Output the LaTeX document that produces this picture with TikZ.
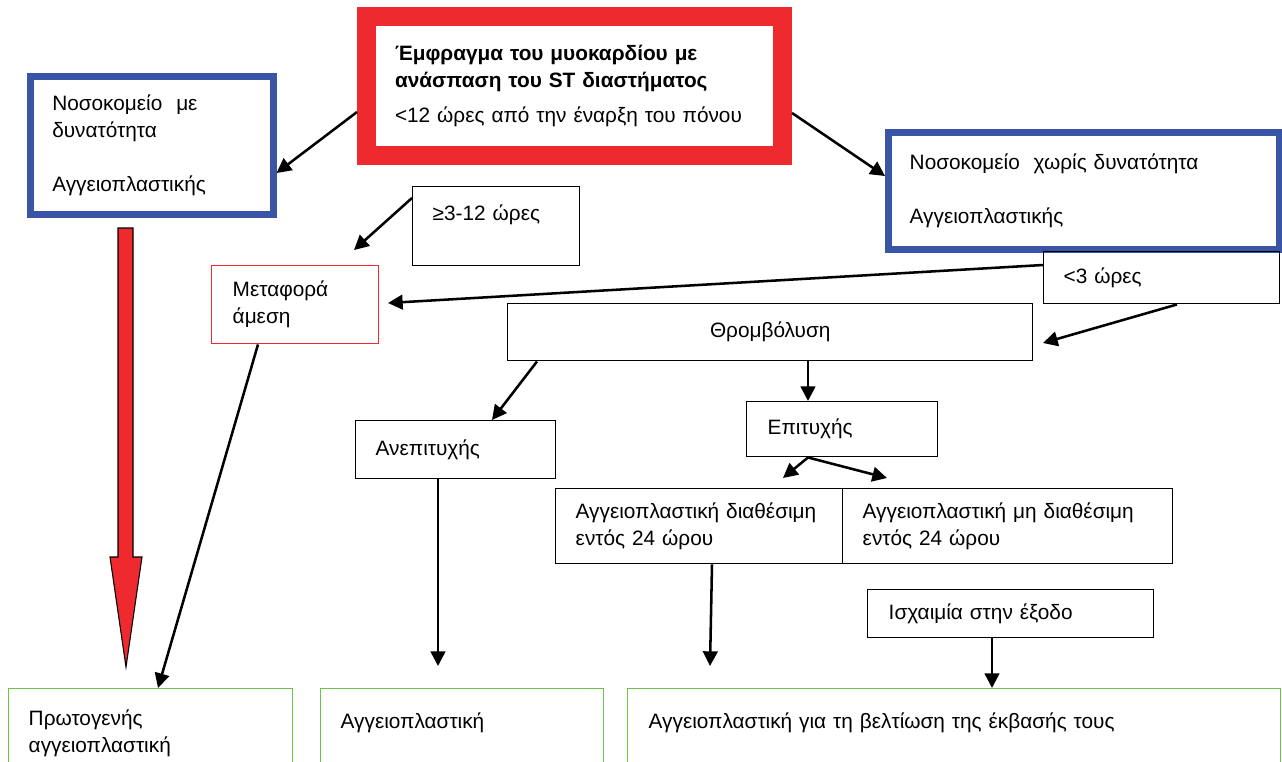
\documentclass[tikz,border=0pt]{standalone}
\usepackage{fontspec}
\setmainfont{Liberation Sans}
\usetikzlibrary{arrows.meta}
\definecolor{stemired}{HTML}{EE2A2F}
\definecolor{hospblue}{HTML}{3A55A6}
\definecolor{outgreen}{HTML}{6CC24A}
\begin{document}
\begin{tikzpicture}[x=0.75pt,y=-0.75pt,
  every node/.style={font=\fontsize{15.6}{20.25}\selectfont},
  box/.style={draw,line width=1.1pt,anchor=north west,align=left,inner ysep=0pt},
  arr/.style={-{Triangle[length=11pt,width=11pt]},line width=1.9pt}]
\useasboundingbox (0,0) rectangle (1282,761);
% top of the chart
\node[box,draw=stemired,line width=14.25pt,minimum width=312pt,minimum height=104.25pt,
  inner xsep=21.4pt,text width=269.25pt] (red) at (357,7)
  {\textbf{Έμφραγμα του μυοκαρδίου με}\\\textbf{ανάσπαση του ST διαστήματος}\\[6pt]<12 ώρες από την έναρξη του πόνου};
\node[box,draw=hospblue,line width=4.9pt,minimum width=182.25pt,minimum height=103.5pt,
  inner xsep=16.5pt,text width=149.25pt] (blueL) at (27,73)
  {Νοσοκομείο\ \ με\\δυνατότητα\\[20.25pt]Αγγειοπλαστικής};
\node[box,draw=hospblue,line width=4.9pt,minimum width=293.6pt,minimum height=88.1pt,
  inner xsep=16.1pt,text width=261.4pt] (blueR) at (885,129)
  {Νοσοκομείο\ \ χωρίς δυνατότητα\\[20.25pt]Αγγειοπλαστικής};
\node[box,minimum width=125.25pt,minimum height=59.25pt,inner xsep=15pt,text width=95.25pt]
  (ge3) at (412,186) {≥3-12 ώρες\\\mbox{}};
\node[box,draw=stemired,minimum width=125.25pt,minimum height=58.5pt,inner xsep=15.75pt,
  text width=93.75pt] (meta) at (211,265) {Μεταφορά\\άμεση};
\node[box,minimum width=177pt,minimum height=39pt,inner xsep=15pt,text width=147pt]
  (lt3) at (1043,251) {<3 ώρες};
\node[box,align=center,minimum width=393.75pt,minimum height=42.75pt]
  (thromb) at (507,303) {Θρομβόλυση};
% middle
\node[box,minimum width=150pt,minimum height=43.5pt,inner xsep=15pt,text width=120pt]
  (anep) at (355,420) {Ανεπιτυχής};
\node[box,minimum width=143.25pt,minimum height=41.25pt,inner xsep=15.75pt,text width=111.75pt]
  (epit) at (746,401) {Επιτυχής};
\node[box,minimum width=215.25pt,minimum height=56.25pt,inner xsep=15pt,text width=185.25pt]
  (diath) at (555,488) {Αγγειοπλαστική διαθέσιμη\\εντός 24 ώρου};
\node[box,minimum width=247.5pt,minimum height=56.25pt,inner xsep=15pt,text width=217.5pt]
  (nodiath) at (842,488) {Αγγειοπλαστική μη διαθέσιμη\\εντός 24 ώρου};
\node[box,minimum width=214.5pt,minimum height=36pt,inner xsep=15.75pt,text width=183pt]
  (isch) at (867,589) {Ισχαιμία στην έξοδο};
% bottom row
\node[box,draw=outgreen,minimum width=213pt,minimum height=67.5pt,inner xsep=15pt,text width=183pt]
  (green1) at (8,688) {Πρωτογενής\\αγγειοπλαστική};
\node[box,draw=outgreen,minimum width=212.25pt,minimum height=67.5pt,inner xsep=15pt,text width=182.25pt]
  (green2) at (320,688) {Αγγειοπλαστική\\\mbox{}};
\node[box,draw=outgreen,minimum width=489.75pt,minimum height=67.5pt,inner xsep=15.75pt,text width=458.25pt]
  (green3) at (627,688) {Αγγειοπλαστική για τη βελτίωση της έκβασής τους\\\mbox{}};
% free ends
\coordinate (tipMeta) at (354,250);
\coordinate (tipMetaR) at (388,303);
\coordinate (tipThr) at (1043,343);
\coordinate (tipDL) at (783,478);
\coordinate (tipDR) at (887,478);
\coordinate (tipAg) at (438,666);
\coordinate (tipBe) at (710,666);
% connectors
\draw[arr] (red.west |- 0,112) -- (blueL.east |- 0,173);
\draw[arr] (red.east |- 0,113) -- (blueR.west |- 0,176);
\draw[arr] (ge3.west |- 0,198) -- (tipMeta);
\draw[arr] (lt3.west |- 0,265) -- (tipMetaR);
\draw[arr] (lt3.south -| 1177,0) -- (tipThr);
\draw[arr] (thromb.south -| 537,0) -- (anep.north -| 492,0);
\draw[arr] (thromb.south -| 808,0) -- (epit.north -| 808,0);
\draw[arr] (epit.south -| 808,0) -- (tipDL);
\draw[arr] (epit.south -| 808,0) -- (tipDR);
\draw[arr] (anep.south -| 438,0) -- (tipAg);
\draw[arr] (diath.south -| 712,0) -- (tipBe);
\draw[arr] (isch.south -| 992,0) -- (green3.north -| 992,0);
\draw[arr] (meta.south -| 258,0) -- (green1.north -| 158,0);
% big red arrow
\filldraw[fill=stemired,draw=black,line width=0.8pt] (118,228) -- (133,228) -- (133,557)
  -- (142,557) -- (126,667) -- (110,557) -- (118,557) -- cycle;
\end{tikzpicture}
\end{document}
